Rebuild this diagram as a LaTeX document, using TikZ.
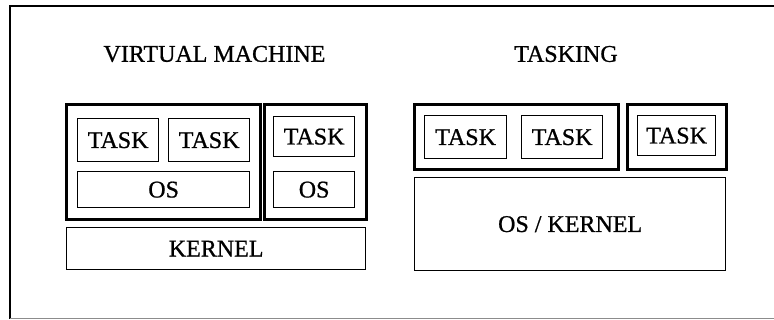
\documentclass[tikz,border=0pt]{standalone}
\usepackage{fontspec}
\setmainfont{Liberation Serif}[FakeBold=0.8]
\begin{document}
\begin{tikzpicture}[x=1pt,y=-1pt,
  inbox/.style={draw=black, line width=1.3pt, anchor=north west, inner sep=0pt,
    font=\fontsize{24}{27}\selectfont},
  outbox/.style={draw=black, line width=2.6pt, anchor=north west, inner sep=0pt},
  title/.style={font=\fontsize{24}{27}\selectfont, inner sep=0pt}]
\useasboundingbox (0,0) rectangle (774,320);
% frame
\draw[line width=1.2pt] (774,6) -- (10,6) -- (10,319);
\draw[line width=1pt, black!45] (10,319) -- (774,319);
% titles
\node[title] (vmt) at (214.5,54) {VIRTUAL MACHINE};
\node[title] (tkt) at (566,54) {TASKING};
% virtual machine
\node[outbox, minimum width=194pt, minimum height=115pt] (vm1) at (65,103) {};
\node[outbox, minimum width=102pt, minimum height=115pt] (vm2) at (263,103) {};
\node[inbox, minimum width=81pt, minimum height=43pt] (t1) at (77,118) {TASK};
\node[inbox, minimum width=81pt, minimum height=43pt] (t2) at (168,118) {TASK};
\node[inbox, minimum width=172pt, minimum height=36pt] (os1) at (77,171) {OS};
\node[inbox, minimum width=81pt, minimum height=40pt] (t3) at (273,116) {TASK};
\node[inbox, minimum width=81pt, minimum height=36pt] (os2) at (273,171) {OS};
\node[inbox, minimum width=299pt, minimum height=42pt] (kern) at (66,227) {KERNEL};
% tasking
\node[outbox, minimum width=204pt, minimum height=65pt] (tk1) at (413,103) {};
\node[outbox, minimum width=99pt, minimum height=65pt] (tk2) at (626,103) {};
\node[inbox, minimum width=82pt, minimum height=43pt] (ta) at (424,115) {TASK};
\node[inbox, minimum width=81pt, minimum height=43pt] (tb) at (521,115) {TASK};
\node[inbox, minimum width=78pt, minimum height=40pt] (tc) at (637,115) {TASK};
\node[inbox, minimum width=311pt, minimum height=93pt] (osk) at (414,177) {OS / KERNEL};
\end{tikzpicture}
\end{document}
